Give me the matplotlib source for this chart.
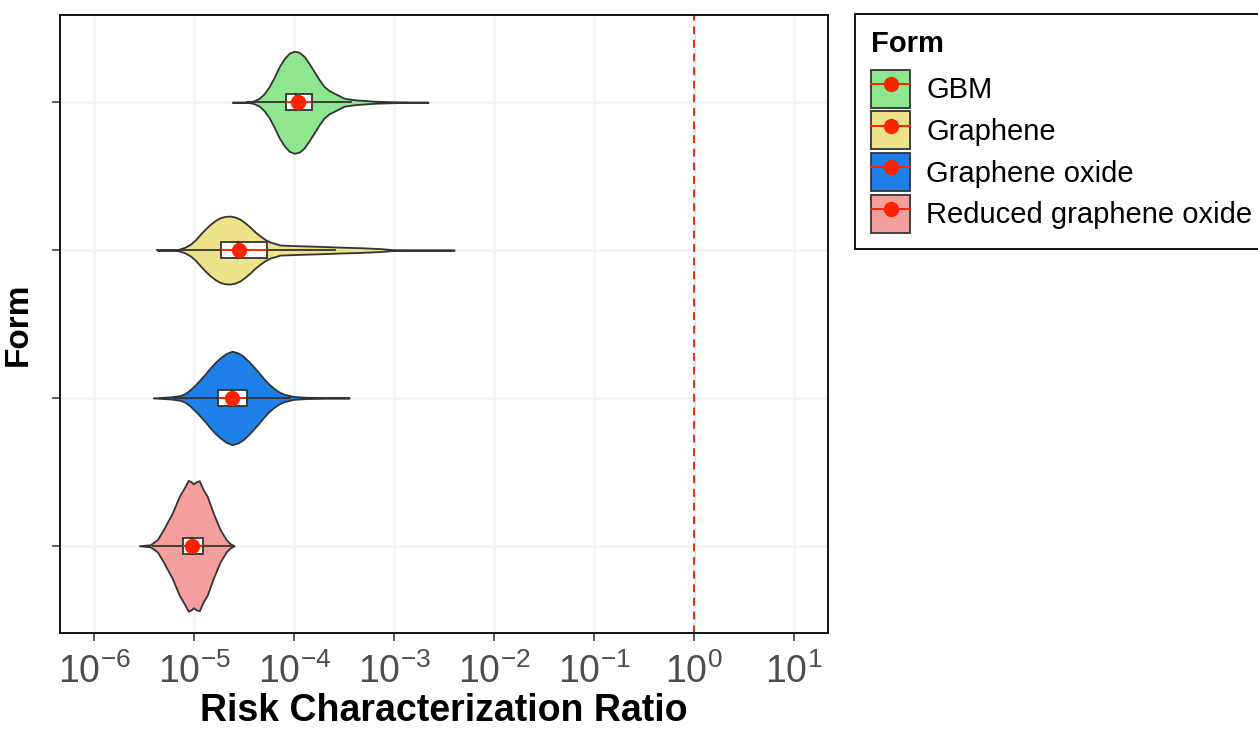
import numpy as np
import matplotlib
matplotlib.use('Agg')
import matplotlib.pyplot as plt
from matplotlib.patches import Patch, Rectangle
from matplotlib.lines import Line2D
from matplotlib import font_manager

# categories, top to bottom
forms = ['GBM', 'Graphene', 'Graphene oxide', 'Reduced graphene oxide']
fills = ['#8ee68e', '#eee28a', '#1f80ea', '#f59e9e']

# violin outlines: log10(RCR) and half width (category units)
gbm_log = [-4.62, -4.45, -4.40, -4.35, -4.30, -4.25, -4.20, -4.15, -4.10, -4.05, -4.00,
           -3.95, -3.90, -3.85, -3.80, -3.75, -3.70, -3.65, -3.60, -3.50, -3.40, -3.20,
           -3.00, -2.66]
gbm_w = [0.0, 0.002, 0.010, 0.027, 0.058, 0.106, 0.169, 0.241, 0.294, 0.332, 0.345,
         0.338, 0.309, 0.260, 0.207, 0.152, 0.106, 0.078, 0.061, 0.027, 0.017, 0.007,
         0.003, 0.0]

gr_log = [-5.37, -5.17, -5.10, -5.04, -4.99, -4.94, -4.89, -4.84, -4.79, -4.74, -4.69,
          -4.64, -4.59, -4.54, -4.49, -4.44, -4.39, -4.34, -4.29, -4.24, -4.14, -3.94,
          -3.74, -3.54, -3.34, -3.14, -3.01, -2.40]
gr_w = [0.0, 0.003, 0.017, 0.039, 0.068, 0.106, 0.142, 0.174, 0.200, 0.219, 0.228,
        0.230, 0.223, 0.208, 0.183, 0.154, 0.122, 0.095, 0.071, 0.054, 0.034, 0.029,
        0.025, 0.020, 0.016, 0.010, 0.003, 0.0]

go_log = [-5.41, -5.24, -5.14, -5.09, -5.04, -4.99, -4.94, -4.89, -4.84, -4.79, -4.74,
          -4.68, -4.62, -4.56, -4.51, -4.46, -4.41, -4.36, -4.31, -4.26, -4.21, -4.16,
          -4.11, -4.01, -3.87, -3.45]
go_w = [0.0, 0.007, 0.016, 0.030, 0.056, 0.088, 0.124, 0.162, 0.203, 0.240, 0.271,
        0.301, 0.316, 0.304, 0.282, 0.250, 0.214, 0.176, 0.135, 0.098, 0.068, 0.044,
        0.027, 0.010, 0.004, 0.0]

rgo_log = [-5.55, -5.44, -5.37, -5.31, -5.22, -5.15, -5.10, -5.06, -5.03, -5.01, -4.98,
           -4.95, -4.91, -4.87, -4.81, -4.74, -4.68, -4.64, -4.60]
rgo_w = [0.0, 0.007, 0.041, 0.108, 0.221, 0.334, 0.392, 0.442, 0.433, 0.419, 0.433,
         0.440, 0.379, 0.334, 0.221, 0.108, 0.041, 0.014, 0.0]

violin_log = [gbm_log, gr_log, go_log, rgo_log]
violin_w = [gbm_w, gr_w, go_w, rgo_w]

# box plot and mean summaries (log10)
q1 = [-4.08, -4.73, -4.76, -5.11]
med = [-3.98, -4.56, -4.62, -5.02]
q3 = [-3.82, -4.27, -4.47, -4.91]
whisk_lo = [-4.47, -5.37, -5.20, -5.41]
whisk_hi = [-3.43, -3.59, -4.04, -4.61]
mean = [-3.96, -4.55, -4.62, -5.02]
err_lo = [-4.07, -4.72, -4.74, -5.10]
err_hi = [-3.84, -4.28, -4.49, -4.92]

threshold = 1.0
decades = np.arange(-6, 2)


def has_font(name):
    try:
        font_manager.findfont(name, fallback_to_default=False)
        return True
    except ValueError:
        return False


narrow = 'Liberation Sans Narrow' if has_font('Liberation Sans Narrow') else 'Liberation Sans'
plt.rcParams['font.family'] = ['Liberation Sans', 'DejaVu Sans']

edge = '#333333'
red = '#ff2200'

fig = plt.figure(figsize=(12.58, 7.31), dpi=100)
ax = fig.add_axes([60 / 1258, 1 - 633 / 731, 768 / 1258, 618 / 731])
ax.set_xscale('log')
ax.set_xlim(10 ** -6.343, 10 ** 1.34)
ax.set_ylim(-0.59, 3.59)

pos = [3, 2, 1, 0]

for i in range(4):
    x = 10 ** np.array(violin_log[i])
    w = np.array(violin_w[i])
    y = pos[i]
    ax.fill_between(x, y - w, y + w, facecolor=fills[i], edgecolor=edge, lw=1.3, zorder=3)
    # whiskers
    ax.plot([10 ** whisk_lo[i], 10 ** q1[i]], [y, y], color=edge, lw=1.3, zorder=4)
    ax.plot([10 ** q3[i], 10 ** whisk_hi[i]], [y, y], color=edge, lw=1.3, zorder=4)
    # box
    bh = 0.11
    ax.add_patch(Rectangle((10 ** q1[i], y - bh / 2), 10 ** q3[i] - 10 ** q1[i], bh,
                           facecolor='white', edgecolor=edge, lw=1.3, zorder=5))
    ax.plot([10 ** med[i]] * 2, [y - bh / 2, y + bh / 2], color=edge, lw=1.6, zorder=5)
    # mean and range
    ax.plot([10 ** err_lo[i], 10 ** err_hi[i]], [y, y], color=red, lw=1.4, zorder=6)
    ax.plot(10 ** mean[i], y, 'o', color=red, ms=11, mec='none', zorder=7)

ax.axvline(threshold, color=red, lw=1.4, ls=(0, (4, 3)), zorder=2)

# axes styling
ax.set_xticks(10.0 ** decades)
ax.set_xticklabels([r'$\mathdefault{10^{%d}}$' % d for d in decades],
                   fontfamily=narrow, fontsize=27, color='#4d4d4d')
ax.xaxis.set_minor_locator(matplotlib.ticker.NullLocator())
ax.set_yticks(pos)
ax.set_yticklabels([])
ax.tick_params(axis='both', length=5.8, width=1.1, color=edge)
ax.tick_params(axis='x', pad=9)
ax.grid(True, color='#f5f5f5', lw=2, zorder=0)
ax.set_axisbelow(True)
for s in ax.spines.values():
    s.set_linewidth(1.3)
    s.set_color('black')

ax.set_xlabel('Risk Characterization Ratio', fontsize=27, fontweight='bold', labelpad=1)
ax.set_ylabel('Form', fontsize=24, fontweight='bold')
ax.yaxis.set_label_coords(-0.034, 0.5)

# legend
handles = []
for c in fills:
    handles.append((Patch(facecolor=c, edgecolor=edge, lw=1.3),
                    Line2D([], [], color=red, lw=1.4, marker='o', ms=11, mec='none')))
leg = fig.legend(handles, forms, title='Form', loc='upper left',
                 bbox_to_anchor=(855 / 1258, 1 - 14 / 731), bbox_transform=fig.transFigure,
                 fontsize=21, title_fontproperties={'weight': 'bold', 'size': 21},
                 handlelength=1.35, handleheight=1.62, handletextpad=0.55, labelspacing=0.13,
                 borderpad=0.55, borderaxespad=0, fancybox=False, framealpha=1,
                 edgecolor='black', alignment='left')
leg._legend_box.sep = 8.5
leg.get_frame().set_linewidth(1.3)

fig.savefig('out.png', dpi=100)
